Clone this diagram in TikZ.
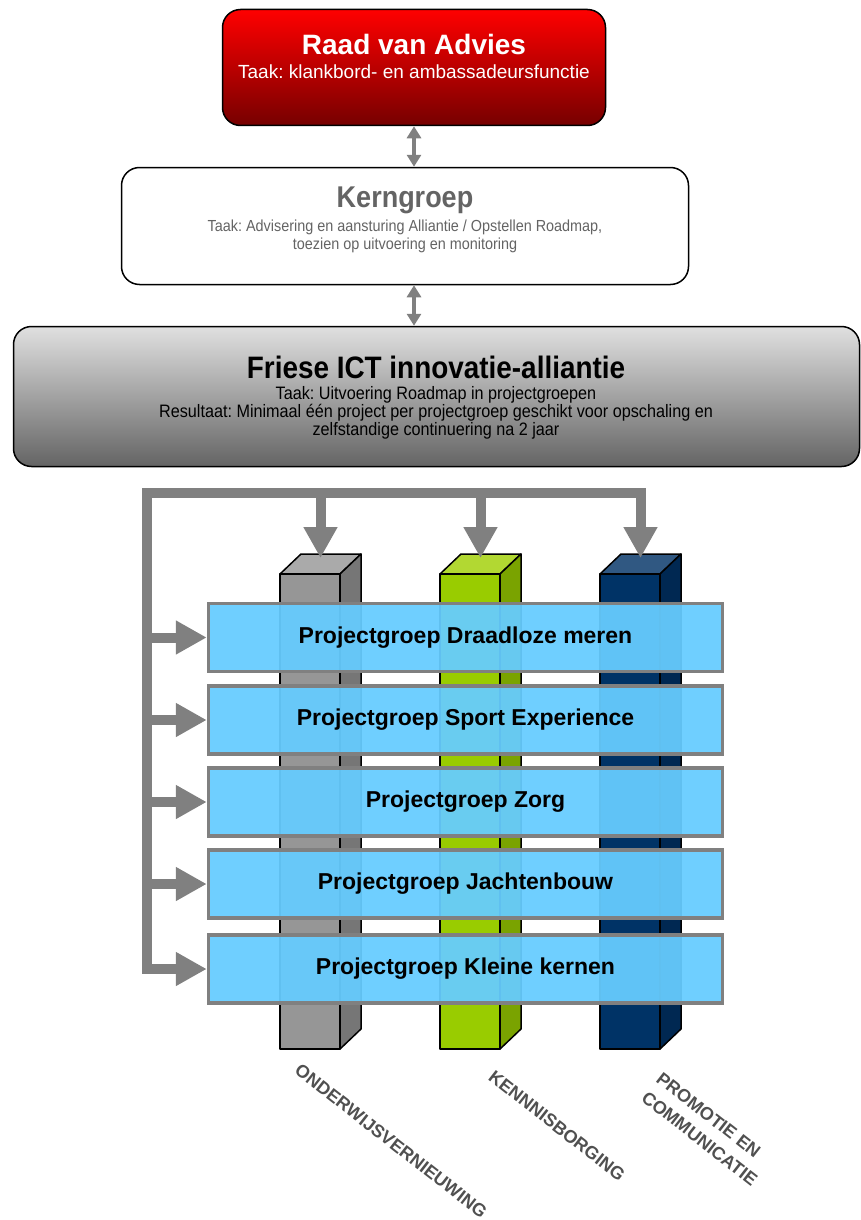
\documentclass[tikz,border=0pt]{standalone}
\usepackage{fontspec}
\setmainfont{Liberation Sans}
\newfontfamily\narrowfont[FakeStretch=0.9]{Liberation Sans}
\usepackage{xcolor}
\usepackage{tikz}
\usetikzlibrary{shapes,arrows.meta,calc}
\usetikzlibrary{positioning}
\frenchspacing

\definecolor{linkgray}{RGB}{128,128,128}
\definecolor{raadtop}{RGB}{255,0,0}
\definecolor{raadbottom}{RGB}{118,0,0}
\definecolor{kerntext}{RGB}{100,100,100}
\definecolor{friesetop}{RGB}{224,224,224}
\definecolor{friesebottom}{RGB}{100,100,100}
\definecolor{projblue}{RGB}{102,204,255}
\definecolor{grayfront}{RGB}{150,150,150}
\definecolor{graytop}{RGB}{170,170,170}
\definecolor{grayside}{RGB}{118,118,118}
\definecolor{greenfront}{RGB}{153,204,0}
\definecolor{greentop}{RGB}{178,216,50}
\definecolor{greenside}{RGB}{122,163,0}
\definecolor{bluefront}{RGB}{0,51,102}
\definecolor{bluetop}{RGB}{48,88,130}
\definecolor{blueside}{RGB}{0,40,82}
\definecolor{labeltext}{RGB}{80,80,80}

\tikzset{
  orgbox/.style={draw=black, line width=1.5pt, rounded corners=18pt, inner sep=0pt},
  projbox/.style={draw=linkgray, line width=3.5pt, fill=projblue, fill opacity=0.94,
    text opacity=1, minimum width=514pt, minimum height=68pt, inner sep=0pt,
    font=\fontsize{23}{27}\selectfont\bfseries},
  pillar/.style={draw=black, line width=1.5pt, line join=round},
  linkarrow/.style={linkgray, line width=4pt,
    {Triangle[width=14pt,length=12pt]}-{Triangle[width=14pt,length=12pt]}},
  frameline/.style={linkgray, line width=10pt, line join=miter},
  framearrow/.style={frameline, -{Triangle[width=32pt,length=31pt]}},
  pillarlabel/.style={rotate=-38, text=labeltext, align=left, inner sep=0pt,
    font=\fontsize{18}{24}\selectfont\bfseries},
}

\begin{document}
\begin{tikzpicture}[x=1pt,y=-1pt]
\useasboundingbox (0,0) rectangle (861,1220);

% top boxes
\node[orgbox, top color=raadtop, bottom color=raadbottom,
  minimum width=383pt, minimum height=116pt] (raad) at (414,67.5) {};
\node[anchor=base, text=white, font=\fontsize{28}{30}\selectfont\bfseries] (raadtitle) at (414,55) {Raad van Advies};
\node[anchor=base, text=white, font=\fontsize{19}{22}\selectfont] (raadtaak) at (414,79) {Taak: klankbord- en ambassadeursfunctie};

\node[orgbox, fill=white, minimum width=567pt, minimum height=117pt] (kern) at (405,226) {};
\node[anchor=base, text=kerntext, font=\narrowfont\fontsize{30}{32}\selectfont\bfseries] (kerntitle) at (405,207) {Kerngroep};
\node[anchor=base, text=kerntext, font=\narrowfont\fontsize{16}{18}\selectfont] (kerntaak) at (405,231) {Taak: Advisering en aansturing Alliantie / Opstellen Roadmap,};
\node[anchor=base, text=kerntext, font=\narrowfont\fontsize{16}{18}\selectfont] (kerntaakb) at (405,249) {toezien op uitvoering en monitoring};

\node[orgbox, top color=friesetop, bottom color=friesebottom,
  minimum width=846pt, minimum height=140pt] (friese) at (436.5,396.5) {};
\node[anchor=base, font=\narrowfont\fontsize{31}{34}\selectfont\bfseries] (friesetitle) at (436,378) {Friese ICT innovatie-alliantie};
\node[anchor=base, font=\narrowfont\fontsize{18}{19}\selectfont] (friesetaak) at (436,399) {Taak: Uitvoering Roadmap in projectgroepen};
\node[anchor=base, font=\narrowfont\fontsize{18}{19}\selectfont] (frieseres) at (436,417) {Resultaat: Minimaal één project per projectgroep geschikt voor opschaling en};
\node[anchor=base, font=\narrowfont\fontsize{18}{19}\selectfont] (frieseresb) at (436,435) {zelfstandige continuering na 2 jaar};

\draw[linkarrow] (raad.south) -- (raad.south |- kern.north);
\draw[linkarrow] (raad.south |- kern.south) -- (raad.south |- friese.north);

% pillars
\filldraw[pillar, fill=graytop] (280,574) -- (340,574) -- (361,554) -- (301,554) -- cycle;
\filldraw[pillar, fill=grayside] (340,574) -- (361,554) -- (361,1029) -- (340,1049) -- cycle;
\filldraw[pillar, fill=grayfront] (280,574) rectangle (340,1049);
\filldraw[pillar, fill=greentop] (440,574) -- (500,574) -- (521,554) -- (461,554) -- cycle;
\filldraw[pillar, fill=greenside] (500,574) -- (521,554) -- (521,1029) -- (500,1049) -- cycle;
\filldraw[pillar, fill=greenfront] (440,574) rectangle (500,1049);
\filldraw[pillar, fill=bluetop] (600,574) -- (660,574) -- (681,554) -- (621,554) -- cycle;
\filldraw[pillar, fill=blueside] (660,574) -- (681,554) -- (681,1029) -- (660,1049) -- cycle;
\filldraw[pillar, fill=bluefront] (600,574) rectangle (660,1049);

\coordinate (onderwijs) at (320.5,558);
\coordinate (kennis) at (480.5,558);
\coordinate (promotie) at (640.5,558);

% project groups
\node[projbox] (draadloos) at (465.5,637.5) {Projectgroep Draadloze meren};
\node[projbox] (sport) at (465.5,720) {Projectgroep Sport Experience};
\node[projbox] (zorg) at (465.5,802) {Projectgroep Zorg};
\node[projbox] (jachten) at (465.5,884) {Projectgroep Jachtenbouw};
\node[projbox] (kernen) at (465.5,969) {Projectgroep Kleine kernen};

% frame with arrows
\coordinate (corner) at (147,493);
\draw[frameline, {Triangle[width=32pt,length=31pt]}-{Triangle[width=32pt,length=31pt]}]
  (kernen.west) -- (corner |- kernen.west) -- (corner) -- (promotie |- corner) -- (promotie);
\draw[framearrow] (onderwijs |- corner) -- (onderwijs);
\draw[framearrow] (kennis |- corner) -- (kennis);
\draw[framearrow] (corner |- draadloos.west) -- (draadloos.west);
\draw[framearrow] (corner |- sport.west) -- (sport.west);
\draw[framearrow] (corner |- zorg.west) -- (zorg.west);
\draw[framearrow] (corner |- jachten.west) -- (jachten.west);

% pillar names
\node[pillarlabel] (lblonderwijs) at (391,1141) {ONDERWIJSVERNIEUWING};
\node[pillarlabel] (lblkennis) at (557,1126) {KENNNISBORGING};
\node[pillarlabel] (lblpromotie) at (707,1129) {PROMOTIE EN\\COMMUNICATIE};
\end{tikzpicture}
\end{document}
